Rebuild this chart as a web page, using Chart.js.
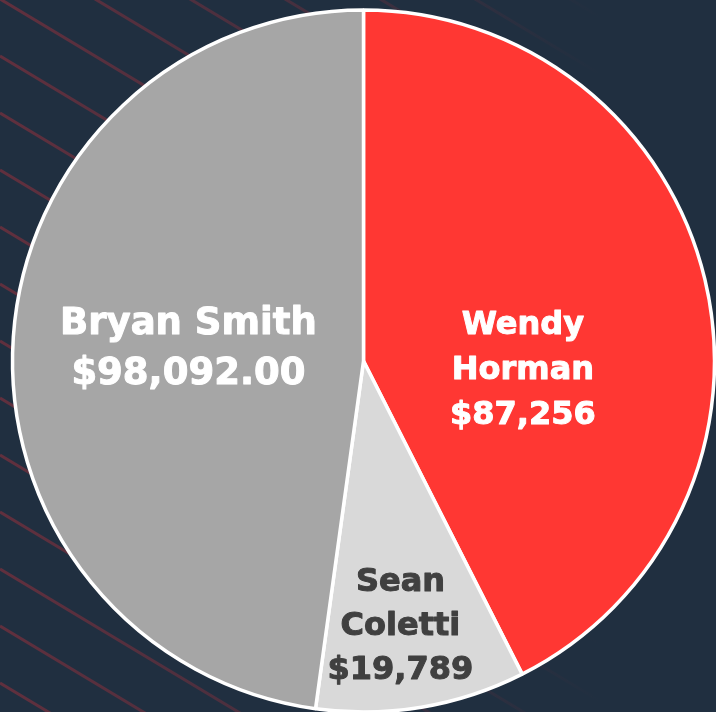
<!DOCTYPE html>
<html>
<head>
<meta charset="utf-8">
<script src="https://cdn.jsdelivr.net/npm/chart.js@4/dist/chart.umd.min.js"></script>
<style>
  html, body { margin: 0; padding: 0; background: #202f40; overflow: hidden; }
  #wrap { width: 716px; height: 712px; }
</style>
</head>
<body>
<div id="wrap"><canvas id="pie" width="716" height="712"></canvas></div>
<script>
const names = ['Wendy Horman', 'Sean Coletti', 'Bryan Smith'];
const amounts = [87256, 19789, 98092];
const nameLines = [['Wendy', 'Horman'], ['Sean', 'Coletti'], ['Bryan Smith']];
const amountLabels = ['$87,256', '$19,789', '$98,092.00'];

const sliceColors = ['#ff3733', '#d9d9d9', '#a6a6a6'];
const textColors = ['#ffffff', '#404040', '#ffffff'];
// label placement: extra turn (deg) off the mid-angle, distance as share of radius
const labelStyle = [
  { turn: 17, dist: 0.455, size: 32, lineGap: 45 },
  { turn: 1.6, dist: 0.765, size: 32, lineGap: 44 },
  { turn: 0, dist: 0.5, size: 37, lineGap: 50 }
];

// navy backdrop with the faint diagonal stripes
const backdrop = {
  id: 'backdrop',
  beforeDraw(chart) {
    const { ctx, width, height } = chart;
    ctx.save();
    ctx.fillStyle = '#202f40';
    ctx.fillRect(0, 0, width, height);
    const grad = ctx.createLinearGradient(0, 0, 600, 0);
    grad.addColorStop(0, 'rgba(140,48,60,0.6)');
    grad.addColorStop(0.5, 'rgba(140,48,60,0.35)');
    grad.addColorStop(1, 'rgba(140,48,60,0)');
    ctx.strokeStyle = grad;
    ctx.lineWidth = 3;
    for (let y0 = -400; y0 < height + 60; y0 += 57) {
      ctx.beginPath();
      ctx.moveTo(0, y0);
      ctx.lineTo(width, y0 + width * 0.6);
      ctx.stroke();
    }
    ctx.restore();
  }
};

const sliceLabels = {
  id: 'sliceLabels',
  afterDatasetsDraw(chart) {
    const { ctx } = chart;
    const arcs = chart.getDatasetMeta(0).data;
    ctx.save();
    ctx.textAlign = 'center';
    ctx.textBaseline = 'middle';
    ctx.lineJoin = 'round';
    arcs.forEach((arc, i) => {
      const st = labelStyle[i];
      const { x, y, startAngle, endAngle, outerRadius } = arc.getProps(['x', 'y', 'startAngle', 'endAngle', 'outerRadius'], true);
      const a = (startAngle + endAngle) / 2 + st.turn * Math.PI / 180;
      const cx = x + Math.cos(a) * outerRadius * st.dist;
      const cy = y + Math.sin(a) * outerRadius * st.dist;
      const lines = nameLines[i].concat([amountLabels[i]]);
      ctx.font = `bold ${st.size}px "DejaVu Sans", sans-serif`;
      ctx.fillStyle = textColors[i];
      ctx.strokeStyle = textColors[i];
      ctx.lineWidth = 1;
      const top = cy - (lines.length - 1) * st.lineGap / 2;
      lines.forEach((t, k) => {
        ctx.fillText(t, cx, top + k * st.lineGap);
        ctx.strokeText(t, cx, top + k * st.lineGap);
      });
    });
    ctx.restore();
  }
};

new Chart(document.getElementById('pie').getContext('2d'), {
  type: 'pie',
  data: {
    labels: names,
    datasets: [{
      data: amounts,
      backgroundColor: sliceColors,
      borderColor: '#ffffff',
      borderWidth: 3.5,
      clip: false
    }]
  },
  options: {
    responsive: false,
    animation: false,
    radius: 351,
    layout: { padding: { left: 11, right: 0, top: 10, bottom: 0 } },
    plugins: {
      legend: { display: false },
      tooltip: { enabled: false }
    }
  },
  plugins: [backdrop, sliceLabels]
});
</script>
</body>
</html>
